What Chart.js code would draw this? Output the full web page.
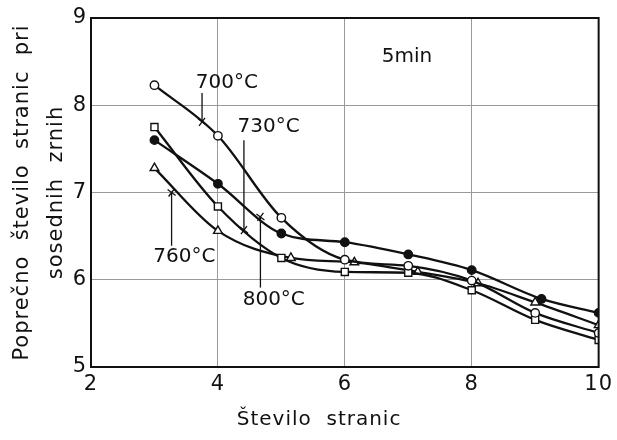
<!DOCTYPE html>
<html>
<head>
<meta charset="utf-8">
<script src="https://cdn.jsdelivr.net/npm/chart.js@4.4.1/dist/chart.umd.min.js"></script>
<style>
  html, body { margin: 0; padding: 0; background: #fff; }
  #wrap { width: 617px; height: 440px; }
</style>
</head>
<body>
<div id="wrap"><canvas id="chart" width="617" height="440"></canvas></div>
<script>
// ============================
// DATA
// ============================
const xTicks = [2, 4, 6, 8, 10];
const yTicks = [5, 6, 7, 8, 9];

// 700°C - open circles
const x700 = [3, 4, 5, 6, 7, 8, 9, 10];
const y700 = [8.23, 7.65, 6.71, 6.23, 6.16, 5.99, 5.62, 5.39];
// 730°C - open squares
const x730 = [3, 4, 5, 6, 7, 8, 9, 10];
const y730 = [7.75, 6.84, 6.25, 6.09, 6.08, 5.88, 5.54, 5.31];
// 760°C - open triangles (drawn slightly offset in the original)
const x760 = [3, 4, 5.15, 6.15, 7.15, 8.1, 9, 10];
const y760 = [7.28, 6.56, 6.25, 6.2, 6.09, 5.96, 5.74, 5.48];
// 800°C - filled circles
const x800 = [3, 4, 5, 6, 7, 8, 9.1, 10];
const y800 = [7.6, 7.1, 6.53, 6.43, 6.29, 6.11, 5.78, 5.62];

// curve labels with leader lines
const labelText = ["700°C", "730°C", "760°C", "800°C"];
const labelX = [4.14, 4.8, 3.47, 4.88];
const labelY = [8.26, 7.75, 6.26, 5.77];
const leaderX = [3.75, 4.41, 3.27, 4.67];
const leaderTop = [8.14, 7.6, 7.0, 6.72];
const leaderBottom = [7.81, 6.57, 6.39, 5.91];
const leaderCross = [7.81, 6.57, 7.0, 6.72];

const noteText = "5min";
const noteX = 6.98;
const noteY = 8.55;

const FONT = "'DejaVu Sans', sans-serif";

function pts(xs, ys) {
  return xs.map((x, i) => ({ x: x, y: ys[i] }));
}

function series(label, xs, ys, style, fill) {
  return {
    label: label,
    data: pts(xs, ys),
    borderColor: "#111",
    borderWidth: 2.3,
    cubicInterpolationMode: "monotone",
    pointStyle: style,
    pointRadius: style === "circle" ? 4.2 : 5,
    pointBackgroundColor: fill,
    pointBorderColor: "#111",
    pointBorderWidth: 1.4,
    fill: false
  };
}

// ============================
// PLUGINS
// ============================
// wider letter spacing like the stencil lettering of the original
const lettering = {
  id: "lettering",
  beforeDraw(chart) { chart.ctx.letterSpacing = "1px"; },
  afterDraw(chart) { chart.ctx.letterSpacing = "0px"; }
};

const annotations = {
  id: "annotations",
  afterDatasetsDraw(chart) {
    const ctx = chart.ctx;
    const xs = chart.scales.x;
    const ys = chart.scales.y;
    const area = chart.chartArea;
    ctx.save();
    ctx.letterSpacing = "0px";
    ctx.strokeStyle = "#111";
    ctx.fillStyle = "#111";

    // closed frame
    ctx.lineWidth = 2;
    ctx.strokeRect(area.left, area.top, area.right - area.left, area.bottom - area.top);

    ctx.lineWidth = 1.3;
    for (let i = 0; i < labelText.length; i++) {
      const px = xs.getPixelForValue(leaderX[i]);
      ctx.beginPath();
      ctx.moveTo(px, ys.getPixelForValue(leaderTop[i]));
      ctx.lineTo(px, ys.getPixelForValue(leaderBottom[i]));
      ctx.stroke();
      // small cross where the leader meets the curve
      const cy = ys.getPixelForValue(leaderCross[i]);
      ctx.beginPath();
      ctx.moveTo(px - 4, cy - 3);
      ctx.lineTo(px + 4, cy + 3);
      ctx.moveTo(px - 3, cy + 4);
      ctx.lineTo(px + 3, cy - 4);
      ctx.stroke();
    }
    ctx.font = "20px " + FONT;
    ctx.textAlign = "center";
    ctx.textBaseline = "middle";
    for (let i = 0; i < labelText.length; i++) {
      ctx.fillText(labelText[i], xs.getPixelForValue(labelX[i]), ys.getPixelForValue(labelY[i]));
    }
    ctx.fillText(noteText, xs.getPixelForValue(noteX), ys.getPixelForValue(noteY));
    ctx.restore();
  }
};

// ============================
// CHART
// ============================
const ctx = document.getElementById("chart").getContext("2d");

new Chart(ctx, {
  type: "line",
  data: {
    datasets: [
      series("700°C", x700, y700, "circle", "#fff"),
      series("730°C", x730, y730, "rect", "#fff"),
      series("760°C", x760, y760, "triangle", "#fff"),
      series("800°C", x800, y800, "circle", "#111")
    ]
  },
  options: {
    responsive: false,
    animation: false,
    layout: { padding: { left: 0, right: 14, top: 18, bottom: 0 } },
    plugins: {
      legend: { display: false },
      tooltip: { enabled: false }
    },
    scales: {
      x: {
        type: "linear",
        min: 2,
        max: 10,
        afterBuildTicks: (s) => { s.ticks = xTicks.map(v => ({ value: v })); },
        afterFit: (s) => { s.height = 73; },
        ticks: { color: "#111", font: { family: FONT, size: 21 }, padding: 5 },
        grid: { color: "#9a9a9a", lineWidth: 1, drawTicks: false },
        border: { color: "#111", width: 2 },
        title: {
          display: true,
          // trailing spaces shift the centred title left, as in the scan
          text: "Število  stranic       ",
          color: "#111",
          font: { family: FONT, size: 20 },
          padding: 8
        }
      },
      y: {
        min: 5,
        max: 9,
        afterBuildTicks: (s) => { s.ticks = yTicks.map(v => ({ value: v })); },
        afterFit: (s) => { s.width = 91; },
        ticks: { color: "#111", font: { family: FONT, size: 21 }, padding: 4 },
        grid: { color: "#9a9a9a", lineWidth: 1, drawTicks: false },
        border: { color: "#111", width: 2 },
        title: {
          display: true,
          text: ["Poprečno  število  stranic  pri", "sosednih  zrnih"],
          color: "#111",
          font: { family: FONT, size: 21, lineHeight: 1.62 },
          padding: 6
        }
      }
    }
  },
  plugins: [lettering, annotations]
});
</script>
</body>
</html>
